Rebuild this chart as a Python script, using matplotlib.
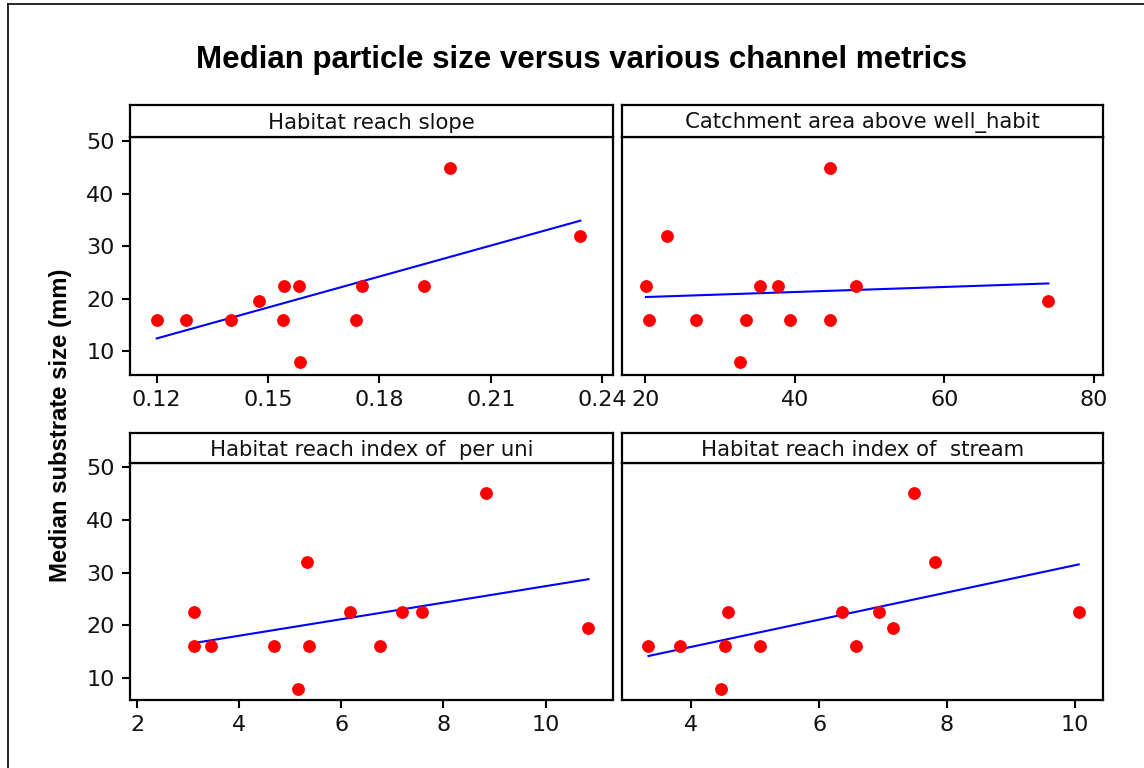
import numpy as np
import matplotlib
matplotlib.use("Agg")
import matplotlib.pyplot as plt
from matplotlib.lines import Line2D

# ------------------------------------------------------------------ data
median_size = [16, 16, 16, 19.5, 22.5, 16, 22.5, 8, 16, 22.5, 22.5, 45, 32]

slope_x = [0.120, 0.128, 0.140, 0.1475, 0.1544, 0.1539, 0.1582, 0.1587,
           0.1738, 0.1754, 0.1921, 0.1990, 0.2341]
slope_y = median_size

catch_x = [20.1, 20.45, 22.85, 26.8, 32.7, 33.5, 35.4, 37.8, 39.4, 44.7, 44.7, 48.2, 73.9]
catch_y = [22.5, 16, 32, 16, 8, 16, 22.5, 22.5, 16, 45, 16, 22.5, 19.5]

peruni_x = [3.12, 3.12, 3.44, 4.68, 5.15, 5.32, 5.36, 6.17, 6.76, 7.19, 7.58, 8.84, 10.84]
peruni_y = [22.5, 16, 16, 16, 8, 32, 16, 22.5, 16, 22.5, 22.5, 45, 19.5]

stream_x = [3.33, 3.83, 4.46, 4.52, 4.58, 5.08, 6.36, 6.58, 6.93, 7.15, 7.49, 7.81, 10.06]
stream_y = [16, 16, 8, 16, 22.5, 16, 22.5, 16, 22.5, 19.5, 45, 32, 22.5]

titles = ["Habitat reach slope", "Catchment area above well_habit",
          "Habitat reach index of  per uni", "Habitat reach index of  stream"]
xticks = [[0.12, 0.15, 0.18, 0.21, 0.24], [20, 40, 60, 80], [2, 4, 6, 8, 10], [4, 6, 8, 10]]
xtick_labels = [["0.12", "0.15", "0.18", "0.21", "0.24"], ["20", "40", "60", "80"],
                ["2", "4", "6", "8", "10"], ["4", "6", "8", "10"]]
xlims = [(0.1128, 0.2429), (16.9, 81.2), (1.863, 11.32), (2.916, 10.44)]
yticks = [10, 20, 30, 40, 50]

# ---------------------------------------------------------------- layout
W, H = 1144, 768
fig = plt.figure(figsize=(W / 100, H / 100), dpi=100)


def frac(left, right, top, bottom):
    return [left / W, 1 - bottom / H, (right - left) / W, (bottom - top) / H]


cols = [(130, 613), (622, 1103)]
rows = [(105, 137, 375, (5.43, 50.83)), (433, 463, 700, (5.86, 50.76))]
series = [(slope_x, slope_y), (catch_x, catch_y), (peruni_x, peruni_y), (stream_x, stream_y)]

tick_font = "DejaVu Sans"
tick_size = 16
for i, (xs, ys) in enumerate(series):
    r, c = divmod(i, 2)
    left, right = cols[c]
    strip_top, plot_top, plot_bottom, ylim = rows[r]

    ax = fig.add_axes(frac(left, right, plot_top, plot_bottom))
    ax.plot(xs, ys, "o", color="#ff0000", ms=8.2, mec="#ff0000", zorder=3)
    xs_arr = np.asarray(xs)
    b, a = np.polyfit(xs_arr, np.asarray(ys), 1)
    xl = np.array([xs_arr.min(), xs_arr.max()])
    ax.plot(xl, a + b * xl, color="#0000ff", lw=1.5, zorder=2)

    ax.set_xlim(*xlims[i])
    ax.set_ylim(*ylim)
    ax.set_xticks(xticks[i])
    ax.set_xticklabels(xtick_labels[i], fontsize=tick_size, family=tick_font, color="#111111")
    if c == 0:
        ax.set_yticks(yticks)
        ax.set_yticklabels([str(v) for v in yticks], fontsize=tick_size, family=tick_font,
                           color="#111111")
    else:
        ax.set_yticks([])
    ax.tick_params(direction="out", length=6, width=1.5, pad=5)
    for sp in ax.spines.values():
        sp.set_linewidth(1.6)

    strip = fig.add_axes(frac(left, right, strip_top, plot_top))
    strip.set_xticks([]); strip.set_yticks([])
    for sp in strip.spines.values():
        sp.set_linewidth(1.6)
    strip.text(0.5, 0.45, titles[i], ha="center", va="center", fontsize=15.3,
               family=tick_font, color="#111111", transform=strip.transAxes)

fig.text(582 / W, 1 - 60 / H, "Median particle size versus various channel metrics",
         ha="center", va="center", fontsize=22.5, fontweight="bold", family="Liberation Sans")
fig.text(61 / W, 1 - 425 / H, "Median substrate size (mm)", rotation=90,
         ha="center", va="center", fontsize=17.2, fontweight="bold", family="Liberation Sans")

# frame edges visible at top and left of the original export
fig.add_artist(Line2D([8 / W, 8 / W], [0, 1 - 4 / H], color="black", lw=1.2))
fig.add_artist(Line2D([8 / W, 1], [1 - 4 / H, 1 - 4 / H], color="black", lw=1.2))

fig.savefig("out.png", dpi=100)
